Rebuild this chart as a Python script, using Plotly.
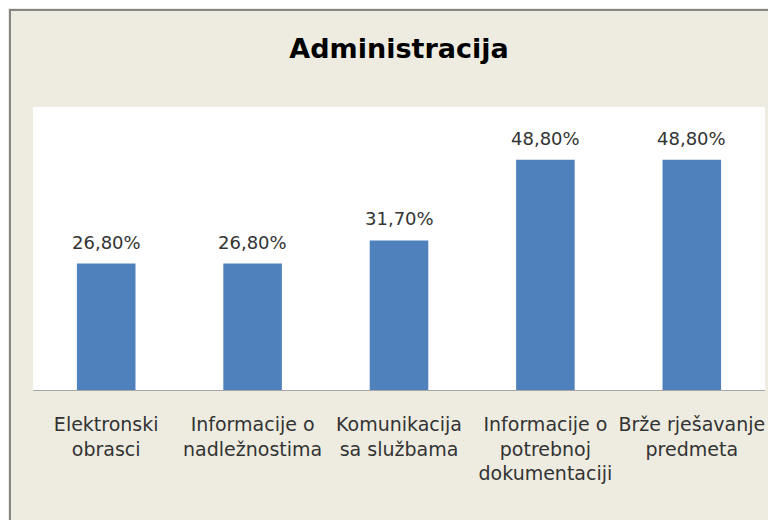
import plotly.graph_objects as go

categories = ["Elektronski<br>obrasci", "Informacije o<br>nadležnostima", "Komunikacija<br>sa službama",
              "Informacije o<br>potrebnoj<br>dokumentaciji", "Brže rješavanje<br>predmeta"]
values = [26.8, 26.8, 31.7, 48.8, 48.8]
labels = [f"{v:.2f}".replace(".", ",") + "%" for v in values]

W, H = 776, 520
L, R, T, B = 25, 757, 99, 382
pw, ph = R - L, B - T

def px(x):
    return (x - L) / pw

def py(y):
    return (B - y) / ph

FONT = "DejaVu Sans"

fig = go.Figure(go.Bar(
    x=categories, y=values,
    marker=dict(color="#4F81BD", line=dict(width=0)),
    hoverinfo="skip",
))

annotations = [
    dict(x=c, y=v, xref="x", yref="y", text=t, showarrow=False, yanchor="bottom",
         yshift=9, font=dict(family=FONT, size=18, color="#333333"))
    for c, v, t in zip(categories, values, labels)
]

shapes = [
    dict(type="line", xref="paper", yref="paper", x0=px(2), x1=px(2), y0=py(1), y1=py(540),
         line=dict(color="#868686", width=2)),
    dict(type="line", xref="paper", yref="paper", x0=px(1), x1=px(800), y0=py(2), y1=py(2),
         line=dict(color="#868686", width=2)),
]

fig.update_layout(
    width=W, height=H,
    margin=dict(l=L, r=W - R, t=T, b=H - B, pad=0),
    paper_bgcolor="#EEECE1", plot_bgcolor="white",
    bargap=0.6, showlegend=False,
    title=dict(text="<b>Administracija</b>", x=px(391), xref="paper", xanchor="center",
               y=(H - 41) / H, yanchor="middle",
               font=dict(family=FONT, size=27, color="black")),
    xaxis=dict(showline=True, linecolor="#a6a6a6", linewidth=1, showgrid=False,
               ticks="outside", ticklen=17, tickcolor="rgba(0,0,0,0)",
               tickfont=dict(family=FONT, size=19, color="#333333"), fixedrange=True),
    yaxis=dict(range=[0, 60], visible=False, showgrid=False, fixedrange=True),
    shapes=shapes,
    annotations=annotations,
)

fig.write_html("out.html")
